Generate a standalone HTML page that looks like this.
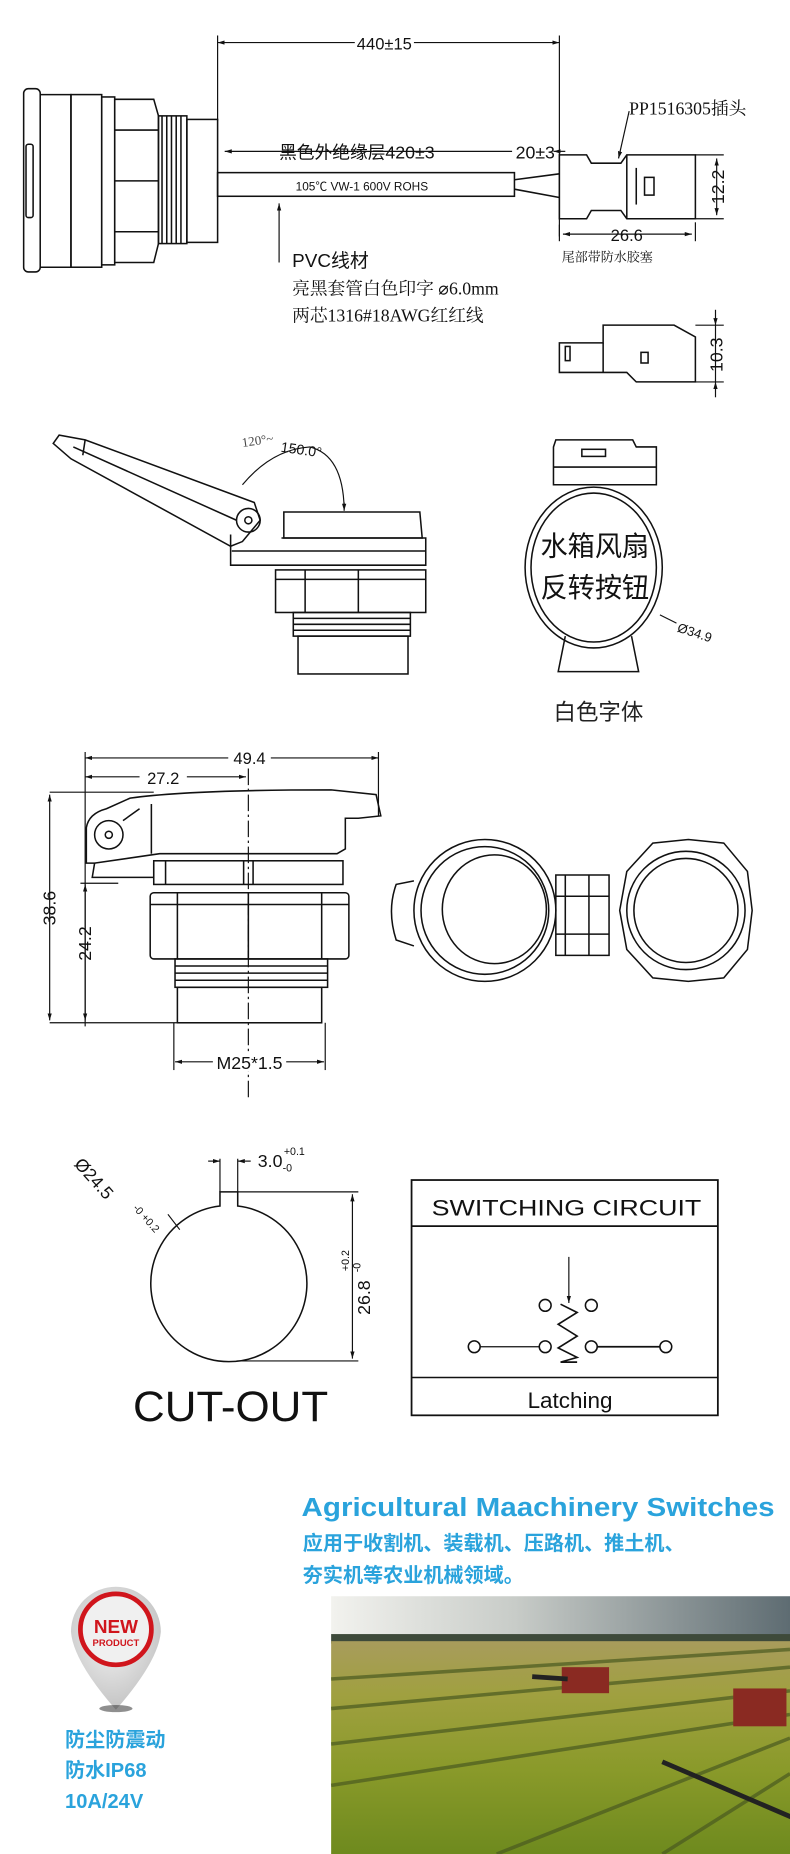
<!DOCTYPE html>
<html><head><meta charset="utf-8"><style>
html,body{margin:0;padding:0;background:#fff;}
svg{display:block;}
text{font-family:"Liberation Sans","Noto Sans CJK SC",sans-serif;}
.s{font-family:"Liberation Serif","Noto Serif CJK SC",serif;}
</style></head><body>
<svg width="790" height="1854" viewBox="0 0 668 1568" preserveAspectRatio="none" xmlns="http://www.w3.org/2000/svg">
<defs>
<marker id="a" viewBox="0 0 10 10" refX="10" refY="5" markerWidth="6" markerHeight="6" orient="auto-start-reverse"><path d="M0,2 L10,5 L0,8 z" fill="#111"/></marker>
<linearGradient id="sky" x1="0" y1="0" x2="1" y2="0"><stop offset="0" stop-color="#f2f2ee"/><stop offset="0.4" stop-color="#c8ccc8"/><stop offset="1" stop-color="#5e6c72"/></linearGradient>
<linearGradient id="fld" x1="0" y1="0" x2="0" y2="1"><stop offset="0" stop-color="#a89c5c"/><stop offset="0.25" stop-color="#a0a040"/><stop offset="0.6" stop-color="#8a9a2a"/><stop offset="1" stop-color="#6e8a1e"/></linearGradient>
<radialGradient id="pin" cx="0.45" cy="0.4" r="0.6"><stop offset="0" stop-color="#f4f4f4"/><stop offset="1" stop-color="#c4c4c4"/></radialGradient>
</defs>
<g fill="none" stroke="#111" stroke-width="1.3">
<!-- SECTION 1 -->
<line x1="184" y1="36" x2="473" y2="36" stroke-width="1" marker-start="url(#a)" marker-end="url(#a)"/>
<line x1="184" y1="30" x2="184" y2="102" stroke-width="1"/>
<line x1="473" y1="30" x2="473" y2="200" stroke-width="1"/>
<rect x="20" y="75" width="14" height="155" rx="4"/>
<path d="M34 80 L60 80 L60 226 L34 226"/>
<rect x="60" y="80" width="26" height="146"/>
<rect x="86" y="82" width="11" height="142"/>
<path d="M97 84 L130 84 L134 98 L134 206 L130 222 L97 222 Z"/>
<line x1="97" y1="110" x2="134" y2="110"/><line x1="97" y1="196" x2="134" y2="196"/>
<line x1="97" y1="153" x2="134" y2="153"/>
<rect x="134" y="98" width="24" height="108"/>
<path d="M137 98 v108 M141 98 v108 M145 98 v108 M149 98 v108 M153 98 v108"/>
<rect x="158" y="101" width="26" height="104"/>
<rect x="22" y="122" width="6" height="62" rx="2"/>
<rect x="184" y="146" width="251" height="20"/>
<line x1="190" y1="128" x2="433" y2="128" stroke-width="1" marker-start="url(#a)"/>
<line x1="468" y1="128" x2="478" y2="128" stroke-width="1" marker-start="url(#a)"/>
<path d="M435 152 L473 147 M435 160 L473 167"/>
<path d="M473 131 L496 131 L500 138 L525 138 L530 131 L588 131 L588 185 L530 185 L525 178 L500 178 L496 185 L473 185 Z"/>
<line x1="530" y1="131" x2="530" y2="185"/>
<rect x="545" y="150" width="8" height="15"/>
<line x1="538" y1="142" x2="538" y2="173"/>
<path d="M588 131 L612 131 M588 185 L612 185" stroke-width="1"/>
<line x1="606" y1="134" x2="606" y2="182" stroke-width="1" marker-start="url(#a)" marker-end="url(#a)"/>
<line x1="473" y1="190" x2="473" y2="204" stroke-width="1"/>
<line x1="588" y1="188" x2="588" y2="204" stroke-width="1"/>
<line x1="476" y1="198" x2="585" y2="198" stroke-width="1" marker-start="url(#a)" marker-end="url(#a)"/>
<line x1="532" y1="94" x2="523" y2="134" stroke-width="1" marker-end="url(#a)"/>
<line x1="236" y1="222" x2="236" y2="172" stroke-width="1" marker-end="url(#a)"/>
<path d="M473 290 L510 290 L510 275 L570 275 L588 285 L588 323 L538 323 L530 315 L473 315 Z"/>
<rect x="478" y="293" width="4" height="12"/>
<rect x="542" y="298" width="6" height="9"/>
<line x1="510" y1="290" x2="510" y2="315"/>
<path d="M588 275 L612 275 M588 323 L612 323" stroke-width="1"/>
<line x1="605" y1="262" x2="605" y2="275" stroke-width="1" marker-end="url(#a)"/>
<line x1="605" y1="336" x2="605" y2="323" stroke-width="1" marker-end="url(#a)"/>
<line x1="605" y1="275" x2="605" y2="323" stroke-width="1"/>

<!-- SECTION 2 -->
<path d="M45 375 L50 368 L72 372 L215 425 L220 440 L205 458 L195 462 L60 388 Z"/>
<path d="M62 378 L200 440"/>
<path d="M72 372 L70 385"/>
<circle cx="210" cy="440" r="10"/><circle cx="210" cy="440" r="3"/>
<path d="M195 452 L195 478 L360 478 L360 455 L238 455"/>
<path d="M240 433 L355 433 L357 455 L240 455 Z"/>
<path d="M196 466 L360 466"/>
<rect x="233" y="482" width="127" height="36"/>
<line x1="258" y1="482" x2="258" y2="518"/><line x1="303" y1="482" x2="303" y2="518"/>
<line x1="233" y1="490" x2="360" y2="490"/>
<rect x="248" y="518" width="99" height="20"/>
<path d="M248 523 H347 M248 528 H347 M248 533 H347"/>
<rect x="252" y="538" width="93" height="32"/>
<path d="M205 410 Q230 380 262 378 Q290 385 291 430" stroke-width="1"/>
<line x1="291" y1="425" x2="291" y2="432" stroke-width="1" marker-end="url(#a)"/>
<path d="M468 378 L470 372 L535 372 L538 378 L555 378 L555 410 L468 410 Z"/>
<rect x="492" y="380" width="20" height="6"/>
<line x1="468" y1="395" x2="555" y2="395"/>
<ellipse cx="502" cy="480" rx="58" ry="68"/>
<ellipse cx="502" cy="480" rx="53" ry="63"/>
<path d="M478 538 L472 568 L540 568 L534 538"/>
<line x1="558" y1="520" x2="572" y2="527" stroke-width="1"/>

<!-- SECTION 3 -->
<line x1="72" y1="641" x2="320" y2="641" stroke-width="1" marker-start="url(#a)" marker-end="url(#a)"/>
<line x1="72" y1="657" x2="208" y2="657" stroke-width="1" marker-start="url(#a)" marker-end="url(#a)"/>
<line x1="72" y1="636" x2="72" y2="868" stroke-width="1"/>
<line x1="320" y1="636" x2="320" y2="690" stroke-width="1"/>
<line x1="42" y1="670" x2="130" y2="670" stroke-width="1"/>
<line x1="42" y1="865" x2="150" y2="865" stroke-width="1"/>
<line x1="42" y1="672" x2="42" y2="863" stroke-width="1" marker-start="url(#a)" marker-end="url(#a)"/>
<line x1="72" y1="748" x2="72" y2="863" stroke-width="1" marker-start="url(#a)" marker-end="url(#a)"/>
<line x1="68" y1="747" x2="100" y2="747" stroke-width="1"/>
<path d="M73 700 Q75 688 90 684 L110 675 Q160 668 280 668 L318 672 L322 690 L303 692 L292 692 L292 718 L285 722 L135 722 L80 730 L73 730 Z"/>
<circle cx="92" cy="706" r="12"/><circle cx="92" cy="706" r="3"/>
<path d="M128 680 L128 722 M104 694 L118 684"/>
<path d="M80 730 L78 742 L130 742 L130 730"/>
<rect x="130" y="728" width="160" height="20"/>
<path d="M140 728 L140 748 M206 728 L206 748 M214 728 L214 748"/>
<rect x="127" y="755" width="168" height="56" rx="3"/>
<path d="M150 755 V811 M210 755 V811 M272 755 V811 M127 765 H295"/>
<rect x="148" y="811" width="129" height="24"/>
<path d="M148 817 H277 M148 823 H277 M148 829 H277"/>
<rect x="150" y="835" width="122" height="30"/>
<line x1="210" y1="650" x2="210" y2="930" stroke-width="1" stroke-dasharray="14 3 2 3"/>
<line x1="147" y1="865" x2="147" y2="905" stroke-width="1"/><line x1="275" y1="865" x2="275" y2="905" stroke-width="1"/>
<line x1="148" y1="898" x2="274" y2="898" stroke-width="1" marker-start="url(#a)" marker-end="url(#a)"/>
<circle cx="410" cy="770" r="60"/><circle cx="410" cy="770" r="54"/>
<ellipse cx="418" cy="769" rx="44" ry="46"/>
<path d="M350 745 L335 748 Q327 770 335 795 L350 800"/>
<path d="M470 740 L515 740 L515 808 L470 808 Z"/>
<path d="M478 740 V808 M498 740 V808 M470 758 H515 M470 790 H515"/>
<path d="M582 710 L612 713 L632 737 L636 770 L632 803 L612 827 L582 830 L552 827 L530 803 L524 770 L530 737 L552 713 Z"/>
<circle cx="580" cy="770" r="50"/><circle cx="580" cy="770" r="44"/>

<!-- SECTION 4 -->
<path d="M186 1020 A66 66 0 1 0 201 1020 L201 1008 L186 1008 Z"/>
<line x1="186" y1="980" x2="186" y2="1008" stroke-width="1"/><line x1="201" y1="980" x2="201" y2="1008" stroke-width="1"/>
<line x1="176" y1="982" x2="186" y2="982" stroke-width="1" marker-end="url(#a)"/>
<line x1="212" y1="982" x2="201" y2="982" stroke-width="1" marker-end="url(#a)"/>
<line x1="201" y1="1008" x2="303" y2="1008" stroke-width="1"/>
<line x1="200" y1="1151" x2="303" y2="1151" stroke-width="1"/>
<line x1="298" y1="1010" x2="298" y2="1149" stroke-width="1" marker-start="url(#a)" marker-end="url(#a)"/>
<line x1="142" y1="1027" x2="152" y2="1040" stroke-width="1"/>
<rect x="348" y="998" width="259" height="199" stroke-width="1.5"/>
<line x1="348" y1="1037" x2="607" y2="1037" stroke-width="1.5"/>
<line x1="348" y1="1165" x2="607" y2="1165"/>
<circle cx="401" cy="1139" r="5"/><circle cx="461" cy="1139" r="5"/>
<circle cx="500" cy="1139" r="5"/><circle cx="563" cy="1139" r="5"/>
<circle cx="461" cy="1104" r="5"/><circle cx="500" cy="1104" r="5"/>
<line x1="406" y1="1139" x2="456" y2="1139" stroke-width="1"/><line x1="505" y1="1139" x2="558" y2="1139" stroke-width="1.5"/>
<path d="M474 1103 L488 1110 L472 1120 L488 1130 L472 1140 L488 1148 L474 1152 L488 1152" stroke-width="1.4"/>
<line x1="481" y1="1063" x2="481" y2="1102" stroke-width="1" marker-end="url(#a)"/>
</g>

<!-- TEXT section 1 -->
<g fill="#111">
<rect x="300" y="28" width="50" height="16" fill="#fff"/>
<text x="325" y="42" font-size="14" text-anchor="middle">440±15</text>
<text x="236" y="134" font-size="15">黑色外绝缘层420±3</text>
<text x="436" y="134" font-size="15">20±3</text>
<text x="250" y="161" font-size="10">105℃ VW-1 600V  ROHS</text>
<text x="532" y="97" font-size="15" class="s">PP1516305插头</text>
<text x="475" y="221" font-size="11" class="s">尾部带防水胶塞</text>
<text x="247" y="226" font-size="16">PVC线材</text>
<text x="247" y="249" font-size="15" class="s">亮黑套管白色印字 ⌀6.0mm</text>
<text x="247" y="272" font-size="15" class="s">两芯1316#18AWG红红线</text>
<text transform="translate(612,158) rotate(-90)" font-size="15" text-anchor="middle">12.2</text>
<text x="530" y="204" font-size="14" text-anchor="middle">26.6</text>
<text transform="translate(611,300) rotate(-90)" font-size="15" text-anchor="middle">10.3</text>

<!-- section 2 -->
<text transform="translate(205,378) rotate(-8)" font-size="11" fill="#444" class="s">120°~</text>
<text transform="translate(237,382) rotate(8)" font-size="12" fill="#111">150.0°</text>
<text x="503" y="470" font-size="23" text-anchor="middle">水箱风扇</text>
<text x="503" y="505" font-size="23" text-anchor="middle">反转按钮</text>
<text transform="translate(572,534) rotate(18)" font-size="11">Ø34.9</text>
<text x="506" y="609" font-size="19" text-anchor="middle" fill="#222">白色字体</text>

<!-- section 3 -->
<rect x="193" y="633" width="36" height="15" fill="#fff"/>
<text x="211" y="646" font-size="14" text-anchor="middle">49.4</text>
<rect x="118" y="649" width="40" height="15" fill="#fff"/>
<text x="138" y="663" font-size="14" text-anchor="middle">27.2</text>
<text transform="translate(47,768) rotate(-90)" font-size="15" text-anchor="middle">38.6</text>
<text transform="translate(77,798) rotate(-90)" font-size="15" text-anchor="middle">24.2</text>
<rect x="180" y="890" width="62" height="16" fill="#fff"/>
<text x="211" y="904" font-size="15" text-anchor="middle">M25*1.5</text>

<!-- section 4 -->
<text x="218" y="987" font-size="15">3.0</text><text x="239" y="991" font-size="9">-0</text><text x="240" y="977" font-size="9">+0.1</text>
<text transform="translate(62,985) rotate(48)" font-size="15">Ø24.5</text>
<text transform="translate(112,1022) rotate(48)" font-size="9">-0 +0.2</text>
<text transform="translate(313,1112) rotate(-90)" font-size="15">26.8</text>
<text transform="translate(305,1076) rotate(-90)" font-size="9">-0</text>
<text transform="translate(295,1075) rotate(-90)" font-size="9">+0.2</text>
<text x="195" y="1202" font-size="36" text-anchor="middle" textLength="165" lengthAdjust="spacingAndGlyphs">CUT-OUT</text>
<text x="479" y="1028" font-size="19" text-anchor="middle" textLength="228" lengthAdjust="spacingAndGlyphs">SWITCHING CIRCUIT</text>
<text x="482" y="1191" font-size="19" text-anchor="middle">Latching</text>
</g>

<!-- SECTION 5 -->
<text x="255" y="1282" font-size="22" font-weight="bold" fill="#2aa3dc" textLength="400" lengthAdjust="spacingAndGlyphs">Agricultural Maachinery Switches</text>
<text x="256" y="1311" font-size="17" font-weight="bold" fill="#2aa3dc" font-family="'Noto Sans CJK SC',sans-serif">应用于收割机、装载机、压路机、推土机、</text>
<text x="256" y="1338" font-size="17" font-weight="bold" fill="#2aa3dc" font-family="'Noto Sans CJK SC',sans-serif">夯实机等农业机械领域。</text>

<path d="M98 1446 Q62 1405 60 1380 A38 38 0 1 1 136 1380 Q134 1405 98 1446 Z" fill="url(#pin)"/>
<ellipse cx="98" cy="1445" rx="14" ry="3" fill="#444" opacity="0.6"/>
<circle cx="98" cy="1378" r="30" fill="#f0f0f0" stroke="#d0151c" stroke-width="4"/>
<text x="98" y="1381" font-size="16" font-weight="bold" fill="#d0151c" text-anchor="middle">NEW</text>
<text x="98" y="1392" font-size="8" font-weight="bold" fill="#d0151c" text-anchor="middle">PRODUCT</text>
<text x="55" y="1477" font-size="17" font-weight="bold" fill="#2aa3dc" font-family="'Noto Sans CJK SC',sans-serif">防尘防震动</text>
<text x="55" y="1503" font-size="17" font-weight="bold" fill="#2aa3dc" font-family="'Liberation Sans','Noto Sans CJK SC',sans-serif">防水IP68</text>
<text x="55" y="1529" font-size="17" font-weight="bold" fill="#2aa3dc">10A/24V</text>

<rect x="280" y="1350" width="388" height="40" fill="url(#sky)"/>
<rect x="280" y="1382" width="388" height="8" fill="#3e4a3a"/>
<rect x="280" y="1388" width="388" height="180" fill="url(#fld)"/>
<g stroke="#4a5a20" stroke-width="3" opacity="0.7" fill="none">
<path d="M280 1420 L668 1395"/><path d="M280 1445 L668 1410"/><path d="M280 1475 L668 1430"/>
<path d="M280 1510 L668 1450"/><path d="M420 1568 L668 1470"/><path d="M560 1568 L668 1500"/>
</g>
<g fill="#8a2a22"><rect x="475" y="1410" width="40" height="22"/><rect x="620" y="1428" width="45" height="32"/></g>
<g stroke="#222" stroke-width="4"><path d="M450 1418 L480 1420"/><path d="M560 1490 L700 1550"/></g>
</svg>
</body></html>
